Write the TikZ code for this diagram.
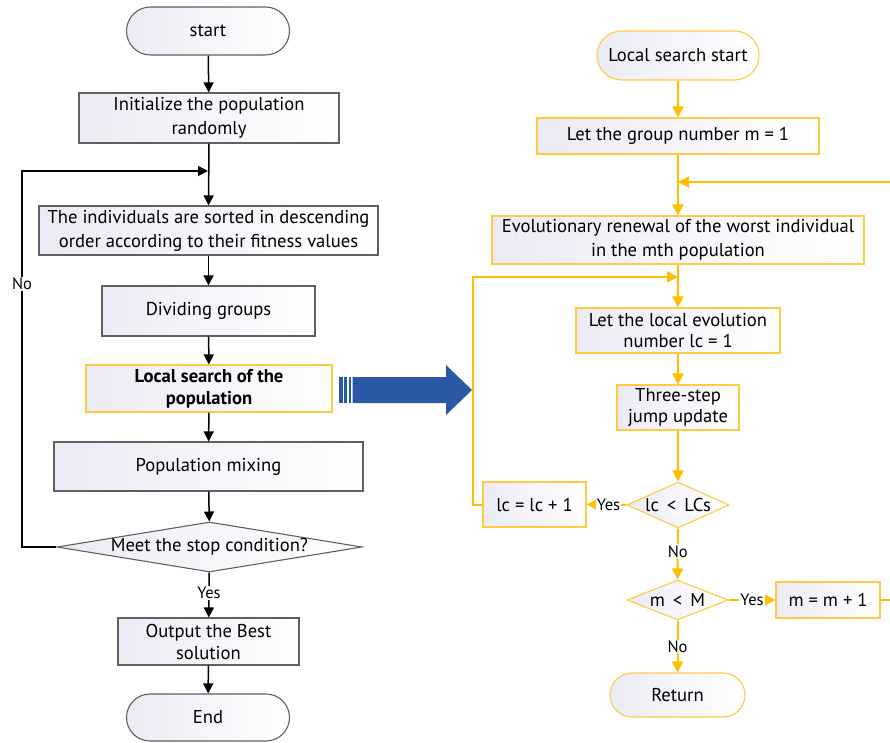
\documentclass[tikz,border=0pt]{standalone}
\usepackage{fontspec}
\setmainfont{PT Sans}
\usetikzlibrary{shapes.misc,shapes.geometric,arrows.meta}
\definecolor{lav}{HTML}{EBEBF5}
\definecolor{ybord}{HTML}{FFCB45}
\definecolor{yline}{HTML}{FFBF00}
\definecolor{gbord}{HTML}{606060}
\definecolor{barblue}{HTML}{2B58A5}
\tikzset{
  x=1pt, y=-1pt,
  base/.style={inner sep=2pt, align=center, font=\fontsize{18.6}{24}\selectfont, left color=lav, right color=white, line width=1.1pt},
  gbox/.style={base, rectangle, draw=gbord},
  ybox/.style={base, rectangle, draw=ybord},
  gterm/.style={base, rounded rectangle, draw=gbord},
  yterm/.style={base, rounded rectangle, draw=ybord},
  gdia/.style={base, diamond, draw=gbord, inner sep=0pt},
  ydia/.style={base, diamond, draw=ybord, inner sep=0pt},
  barr/.style={line width=1.5pt, draw=black, -{Triangle[width=10pt,length=10pt]}},
  yarr/.style={line width=2pt, draw=yline, -{Triangle[width=11pt,length=11pt]}},
  yline/.style={line width=2pt, draw=yline},
  lab/.style={fill=white, inner sep=1pt, font=\fontsize{16.5}{19}\selectfont},
}
\begin{document}
\begin{tikzpicture}
\useasboundingbox (0,0) rectangle (890,743);
% left column
\node[gterm, minimum width=167, minimum height=48] (start) at (208,31) {start};
\node[gbox, minimum width=260, minimum height=50] (init) at (209,118) {Initialize the population\\randomly};
\node[gbox, minimum width=339, minimum height=49] (sort) at (208.5,230.5) {The individuals are sorted in descending\\order according to their fitness values};
\node[gbox, minimum width=213, minimum height=50] (div) at (208.5,311) {Dividing groups};
\node[ybox, minimum width=246, minimum height=47, font=\fontsize{18.6}{22}\selectfont\bfseries] (loc) at (209,388.5) {Local search of the\\population};
\node[gbox, minimum width=309, minimum height=49] (mix) at (208.5,466.5) {Population mixing};
\node[gdia, minimum width=305, minimum height=50, shape aspect=6.1] (dec) at (209.5,547) {Meet the stop condition?};
\node[gbox, minimum width=181, minimum height=47, font=\fontsize{18.6}{22}\selectfont] (out) at (208.5,641.5) {Output the Best\\solution};
\node[gterm, minimum width=167, minimum height=47] (end) at (208,717.5) {End};
\coordinate (lc1) at (22,547);
\coordinate (lc2) at (22,171);
\coordinate (lc3) at (208,171);

\draw[barr] (start) -- (init);
\draw[barr] (init) -- (sort);
\draw[barr] (sort) -- (div);
\draw[barr] (div) -- (loc);
\draw[barr] (loc) -- (mix);
\draw[barr] (mix) -- (dec);
\draw[barr] (dec) -- node[lab, pos=0.45] (yes1) {Yes} (out);
\draw[barr] (out) -- (end);
\draw[line width=1.5pt, -{Triangle[width=10pt,length=10pt]}] (dec.west) -- (lc1) -- node[lab, pos=0.7] (no1) {No} (lc2) -- (lc3);

% blue arrow
\fill[barblue] (339.3,377) rectangle (342.5,403);
\fill[barblue] (344.3,377) rectangle (347.3,403);
\fill[barblue] (349,377) rectangle (351,403);
\fill[barblue] (352.5,377) -- (446,377) -- (446,365) -- (472,390) -- (446,415) -- (446,403) -- (352.5,403) -- cycle;

% right column
\node[yterm, minimum width=166, minimum height=49] (lss) at (678,55.5) {Local search start};
\node[ybox, minimum width=282, minimum height=36] (grp) at (678,136) {Let the group number m = 1};
\node[ybox, minimum width=372, minimum height=48] (evol) at (678,240) {Evolutionary renewal of the worst individual\\in the mth population};
\node[ybox, minimum width=204, minimum height=45, font=\fontsize{18.6}{21}\selectfont] (lev) at (678,330.5) {Let the local evolution\\number lc = 1};
\node[ybox, minimum width=122, minimum height=45, font=\fontsize{18.6}{21}\selectfont] (three) at (678,407.5) {Three-step\\jump update};
\node[ydia, minimum width=102, minimum height=46, shape aspect=2.2] (lcd) at (678,505) {lc \,<\, LCs};
\node[ybox, minimum width=103, minimum height=45] (lcb) at (534.5,504.5) {lc = lc + 1};
\node[ydia, minimum width=101, minimum height=40, shape aspect=2.5] (md) at (677.5,600) {m \,<\, M};
\node[ybox, minimum width=104, minimum height=36] (mb) at (828,600) {m = m + 1};
\node[yterm, minimum width=139, minimum height=44] (ret) at (677.5,695) {Return};

\coordinate (r1) at (900,600);
\coordinate (r2) at (900,182);
\coordinate (r3) at (678,182);
\coordinate (q1) at (473,504.5);
\coordinate (q2) at (473,277);
\coordinate (q3) at (678,277);

\draw[yarr] (lss) -- (grp);
\draw[yarr] (grp) -- (evol);
\draw[yarr] (evol) -- (lev);
\draw[yarr] (lev) -- (three);
\draw[yarr] (three) -- (lcd);
\draw[yarr] (lcd.west) -- node[lab, pos=0.45] (yes2) {Yes} (lcb.east);
\draw[yarr] (lcb.west) -- (q1) -- (q2) -- (q3);
\draw[yarr] (lcd.south) -- node[lab, pos=0.45] (no2) {No} (md.north);
\draw[yarr] (md.east) -- node[lab, pos=0.5] (yes3) {Yes} (mb.west);
\draw[yarr] (md.south) -- node[lab, pos=0.5] (no3) {No} (ret.north);
\draw[yarr] (mb.east) -- (r1) -- (r2) -- (r3);
\end{tikzpicture}
\end{document}
